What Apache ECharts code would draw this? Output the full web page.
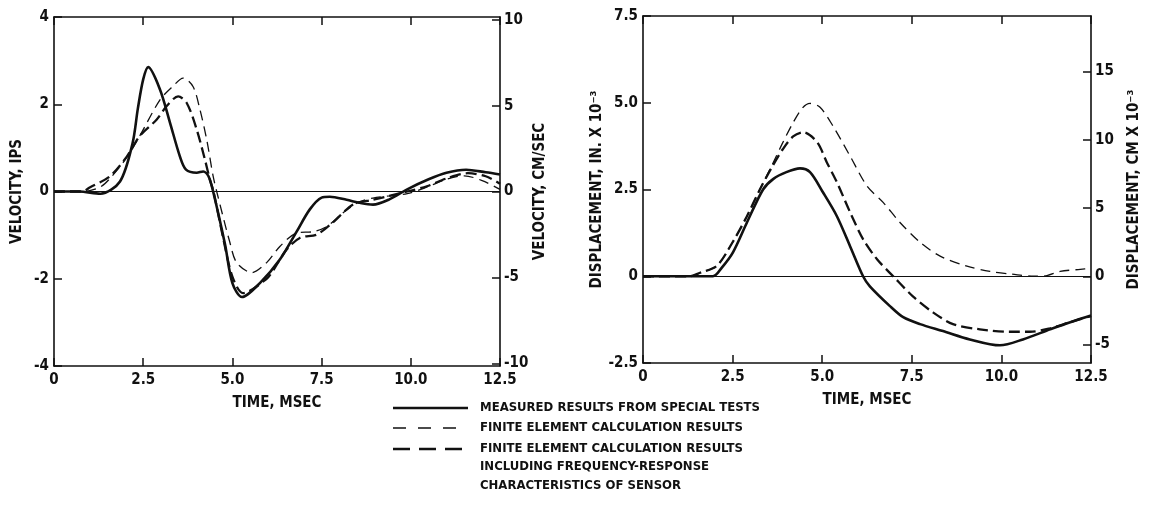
<!DOCTYPE html>
<html>
<head>
<meta charset="utf-8">
<title>Velocity and displacement</title>
<script src="https://cdn.jsdelivr.net/npm/echarts@6/dist/echarts.min.js"></script>
<style>
  html, body { margin: 0; padding: 0; background: #fff; }
  #chart { width: 1151px; height: 509px; }
</style>
</head>
<body>
<div id="chart"></div>
<script>
// time axis ticks (msec)
const timeTicks = ['0', '2.5', '5.0', '7.5', '10.0', '12.5'];

// left panel: velocity, ips
const velMeasT = [0, 0.7, 1.3, 1.85, 2.2, 2.35, 2.5, 2.64, 2.97, 3.25, 3.53, 3.7, 4.0, 4.18, 4.33, 4.46, 4.79, 5.0, 5.27, 5.77, 6.33, 6.8, 7.17, 7.5, 7.73, 8.2, 8.57, 8.94, 9.4, 9.9, 10.5, 11.0, 11.55, 12.1, 12.5];
const velMeas = [0, 0, -0.05, 0.23, 1.1, 1.9, 2.57, 2.85, 2.34, 1.58, 0.8, 0.5, 0.43, 0.46, 0.35, 0, -1.2, -2.1, -2.42, -2.1, -1.56, -0.92, -0.41, -0.14, -0.12, -0.19, -0.26, -0.3, -0.18, 0.05, 0.28, 0.43, 0.5, 0.44, 0.39];

const velFeT = [0, 0.8, 1.29, 1.57, 2.04, 2.4, 2.97, 3.33, 3.62, 3.9, 4.09, 4.28, 4.46, 4.56, 4.93, 5.12, 5.54, 5.96, 6.33, 6.8, 7.27, 7.65, 8.1, 8.5, 8.94, 9.4, 9.9, 10.45, 11.0, 11.5, 12.0, 12.5];
const velFe = [0, 0, 0.1, 0.3, 0.78, 1.27, 2.1, 2.41, 2.6, 2.4, 1.88, 1.19, 0.35, 0, -1.17, -1.63, -1.86, -1.63, -1.26, -0.95, -0.92, -0.8, -0.49, -0.26, -0.15, -0.1, -0.05, 0.1, 0.28, 0.36, 0.25, 0.05];

const velFsT = [0, 0.8, 1.0, 1.57, 2.04, 2.4, 2.88, 3.16, 3.48, 3.72, 4.0, 4.23, 4.37, 4.47, 4.75, 5.0, 5.3, 5.96, 6.15, 6.52, 6.9, 7.36, 7.8, 8.38, 8.94, 9.4, 9.9, 10.45, 11.0, 11.6, 12.1, 12.5];
const velFs = [0, 0, 0.09, 0.35, 0.8, 1.27, 1.65, 1.96, 2.18, 2.03, 1.42, 0.73, 0.27, 0, -1.1, -1.95, -2.33, -2.0, -1.8, -1.33, -1.06, -0.99, -0.72, -0.3, -0.19, -0.1, 0.0, 0.12, 0.3, 0.42, 0.35, 0.18];

// right panel: displacement, in x 10^-3
const dispMeasT = [0, 1.95, 2.2, 2.51, 2.9, 3.35, 3.63, 4.0, 4.38, 4.66, 5.02, 5.41, 5.78, 6.14, 6.33, 6.89, 7.26, 7.73, 8.37, 9.12, 9.96, 10.6, 11.36, 11.9, 12.5];
const dispMeas = [0, 0, 0.25, 0.69, 1.55, 2.5, 2.8, 3.0, 3.11, 3.0, 2.42, 1.73, 0.86, 0, -0.29, -0.86, -1.18, -1.38, -1.58, -1.82, -1.99, -1.82, -1.53, -1.33, -1.13];

const dispFeT = [0, 1.3, 1.59, 2.06, 2.5, 2.9, 3.26, 3.6, 3.9, 4.2, 4.45, 4.66, 4.94, 5.3, 5.78, 6.25, 6.7, 7.17, 7.73, 8.29, 9.04, 9.68, 10.3, 10.9, 11.27, 11.64, 12.2, 12.5];
const dispFe = [0, 0, 0.1, 0.3, 0.98, 1.73, 2.5, 3.2, 3.85, 4.45, 4.85, 4.98, 4.87, 4.33, 3.46, 2.6, 2.13, 1.55, 0.98, 0.58, 0.29, 0.14, 0.06, 0, 0.02, 0.14, 0.2, 0.23];

const dispFsT = [0, 1.3, 1.59, 2.06, 2.5, 2.9, 3.26, 3.6, 3.9, 4.19, 4.47, 4.86, 5.13, 5.41, 5.78, 6.14, 6.53, 6.98, 7.53, 8.09, 8.65, 9.4, 10.24, 10.8, 11.36, 11.9, 12.5];
const dispFs = [0, 0, 0.1, 0.3, 0.98, 1.73, 2.5, 3.15, 3.66, 4.03, 4.15, 3.86, 3.28, 2.71, 1.84, 1.07, 0.49, 0, -0.58, -1.04, -1.38, -1.53, -1.6, -1.6, -1.5, -1.33, -1.15];

// secondary (metric) axes
const velCmTicks = [-10, -5, 0, 5, 10];
const dispCmTicks = [-5, 0, 5, 10, 15];
const IN_TO_CM = 2.54;

const legendLabels = [
    'MEASURED RESULTS FROM SPECIAL TESTS',
    'FINITE ELEMENT CALCULATION RESULTS',
    'FINITE ELEMENT CALCULATION RESULTS',
    'INCLUDING FREQUENCY-RESPONSE',
    'CHARACTERISTICS OF SENSOR'
];

const FONT = "'Liberation Sans Narrow', 'DejaVu Sans Condensed', 'Noto Sans', sans-serif";
const INK = '#111';

const pairs = (xs, ys) => xs.map((x, i) => [x, ys[i]]);

const styleMeas = { color: INK, width: 2.6, type: 'solid' };
const styleFe = { color: INK, width: 1.3, type: [10, 6] };
const styleFs = { color: INK, width: 2.3, type: [11, 5] };

const frameLine = { show: true, onZero: false, lineStyle: { color: INK, width: 1.6 } };

function xAxes(gridIndex) {
    const common = {
        type: 'value', gridIndex: gridIndex, min: 0, max: 12.5, interval: 2.5,
        axisLine: frameLine,
        axisTick: { show: true, inside: true, length: 8, lineStyle: { color: INK, width: 1.5 } },
        splitLine: { show: false }
    };
    return [
        Object.assign({}, common, {
            position: 'bottom',
            name: 'TIME, MSEC', nameLocation: 'middle', nameGap: 30,
            nameTextStyle: { fontFamily: FONT, fontWeight: 'bold', fontSize: 15, color: INK },
            axisLabel: {
                fontFamily: FONT, fontWeight: 'bold', fontSize: 15, color: INK, margin: 7,
                formatter: v => timeTicks[Math.round(v / 2.5)]
            }
        }),
        Object.assign({}, common, { position: 'top', axisLabel: { show: false } })
    ];
}

function yLeft(gridIndex, min, max, interval, name, fmt, gap) {
    return {
        type: 'value', gridIndex: gridIndex, position: 'left', min: min, max: max, interval: interval,
        name: name, nameLocation: 'middle', nameRotate: 90, nameGap: gap,
        nameTextStyle: { fontFamily: FONT, fontWeight: 'bold', fontSize: 15, color: INK },
        axisLine: frameLine,
        axisTick: { show: true, inside: true, length: 8, lineStyle: { color: INK, width: 1.5 } },
        axisLabel: { fontFamily: FONT, fontWeight: 'bold', fontSize: 15, color: INK, margin: 5, formatter: fmt },
        splitLine: { show: false }
    };
}

function yRight(gridIndex, min, max, ticks, name, gap) {
    return {
        type: 'value', gridIndex: gridIndex, position: 'right', min: min, max: max,
        name: name, nameLocation: 'middle', nameRotate: 90, nameGap: gap,
        nameTextStyle: { fontFamily: FONT, fontWeight: 'bold', fontSize: 15, color: INK },
        axisLine: frameLine,
        axisTick: { show: true, inside: true, length: 8, customValues: ticks, lineStyle: { color: INK, width: 1.5 } },
        axisLabel: { fontFamily: FONT, fontWeight: 'bold', fontSize: 15, color: INK, margin: 4, customValues: ticks },
        splitLine: { show: false }
    };
}

function lineSeries(name, xi, yi, data, style, withZero) {
    const s = {
        name: name, type: 'line', xAxisIndex: xi, yAxisIndex: yi,
        data: data, smooth: 0.3, symbol: 'none', silent: true,
        lineStyle: style
    };
    if (withZero) {
        s.markLine = {
            silent: true, symbol: 'none', label: { show: false },
            lineStyle: { color: INK, width: 1.2, type: 'solid' },
            data: [{ yAxis: 0 }]
        };
    }
    return s;
}

// legend drawn by hand: three line samples + wrapped text
const legendGraphic = [];
const legendRows = [408, 428, 449];
const legendStyles = [styleMeas, styleFe, styleFs];
legendRows.forEach((y, i) => {
    const st = legendStyles[i];
    legendGraphic.push({
        type: 'line', shape: { x1: 393, y1: y, x2: 468, y2: y },
        style: { stroke: INK, lineWidth: st.width, lineDash: i === 0 ? null : (i === 1 ? [13, 12] : [17, 9]) }
    });
});
[408, 428, 449, 467, 486].forEach((y, i) => {
    legendGraphic.push({
        type: 'text', x: 480, y: y,
        style: {
            text: legendLabels[i], fill: INK, verticalAlign: 'middle',
            fontFamily: FONT, fontWeight: 'bold', fontSize: 13
        }
    });
});

const chart = echarts.init(document.getElementById('chart'));
chart.setOption({
    backgroundColor: '#fff',
    animation: false,
    grid: [
        { left: 54, top: 17, width: 446, height: 349 },
        { left: 643, top: 16, width: 448, height: 347 }
    ],
    xAxis: xAxes(0).concat(xAxes(1)),
    yAxis: [
        yLeft(0, -4, 4, 2, 'VELOCITY, IPS', v => String(v), 29),
        yRight(0, -4 * IN_TO_CM, 4 * IN_TO_CM, velCmTicks, 'VELOCITY, CM/SEC', 29),
        yLeft(1, -2.5, 7.5, 2.5, 'DISPLACEMENT, IN. X 10⁻³', v => (v === 0 ? '0' : v.toFixed(1)), 26),
        yRight(1, -2.5 * IN_TO_CM, 7.5 * IN_TO_CM, dispCmTicks, 'DISPLACEMENT, CM X 10⁻³', 36)
    ],
    series: [
        lineSeries('measured', 0, 0, pairs(velMeasT, velMeas), styleMeas, true),
        lineSeries('fe', 0, 0, pairs(velFeT, velFe), styleFe, false),
        lineSeries('fe sensor', 0, 0, pairs(velFsT, velFs), styleFs, false),
        lineSeries('measured', 2, 2, pairs(dispMeasT, dispMeas), styleMeas, true),
        lineSeries('fe', 2, 2, pairs(dispFeT, dispFe), styleFe, false),
        lineSeries('fe sensor', 2, 2, pairs(dispFsT, dispFs), styleFs, false)
    ],
    graphic: legendGraphic
});
</script>
</body>
</html>
